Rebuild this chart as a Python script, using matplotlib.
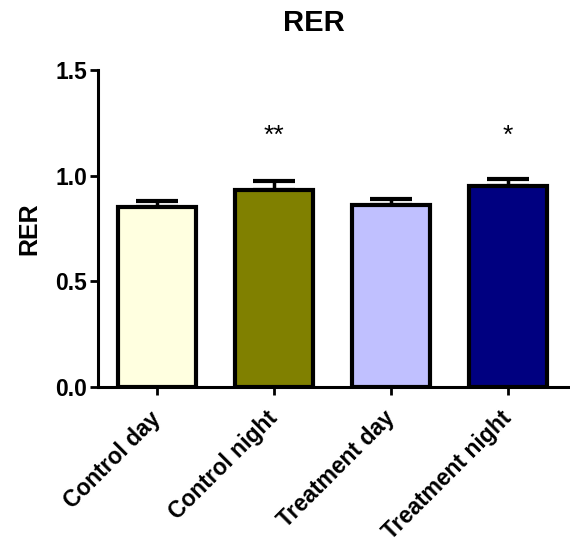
import matplotlib
matplotlib.use("Agg")
import matplotlib.pyplot as plt

# ---------------------------------------------------------------------------
# Data
# ---------------------------------------------------------------------------
groups = ["Control day", "Control night", "Treatment day", "Treatment night"]
rer_mean = [0.853, 0.934, 0.863, 0.953]
rer_sem = [0.028, 0.039, 0.026, 0.033]
stars = ["", "**", "", "*"]
bar_colors = ["#FFFFE0", "#808000", "#C0C0FF", "#000080"]

plt.rcParams["font.family"] = ["Liberation Sans", "DejaVu Sans"]

fig = plt.figure(figsize=(5.70, 5.43), dpi=100)
ax = fig.add_axes([0.172, 0.287, 0.828, 0.584])

x = list(range(len(groups)))
ax.errorbar(x, rer_mean, yerr=[[0] * len(x), rer_sem], fmt="none",
            ecolor="black", elinewidth=2.5, capsize=15, capthick=3.0,
            zorder=2)
ax.bar(x, rer_mean, width=0.67, color=bar_colors, edgecolor="black",
       linewidth=3.0, zorder=3)

for xi, s in zip(x, stars):
    if s:
        ax.text(xi, 1.19, s, ha="center", va="center", fontsize=19,
                color="black")

ax.set_xlim(-0.505, 3.53)
ax.set_ylim(0, 1.5)
ax.set_yticks([0.0, 0.5, 1.0, 1.5])
ax.set_yticklabels(["0.0", "0.5", "1.0", "1.5"], fontsize=16.5,
                   fontweight="bold")
ax.set_xticks(x)
ax.set_xticklabels(groups, rotation=45, ha="right", va="center",
                   rotation_mode="anchor", fontsize=16.5, fontweight="bold")
ax.tick_params(axis="both", direction="out", length=6, width=2)
ax.tick_params(axis="y", pad=2)
ax.tick_params(axis="x", pad=14)

for side in ["top", "right"]:
    ax.spines[side].set_visible(False)
for side in ["left", "bottom"]:
    ax.spines[side].set_linewidth(2.2)

ax.set_ylabel("RER", fontsize=18, fontweight="bold", labelpad=10)
fig.text(314 / 570, 1 - 23 / 543, "RER", ha="center", va="center",
         fontsize=21, fontweight="bold")

fig.savefig("out.png", dpi=100)
